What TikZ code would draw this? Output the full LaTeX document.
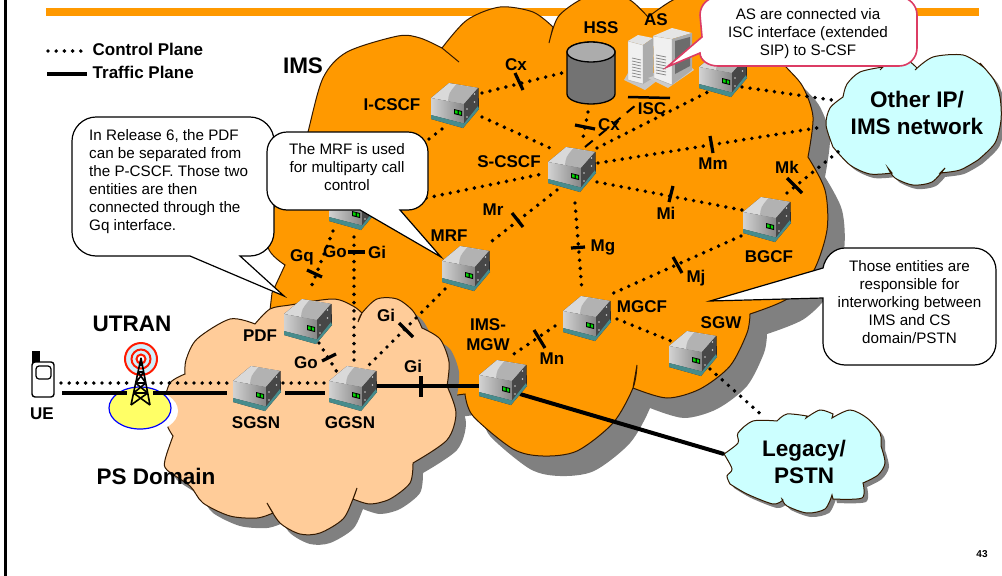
\documentclass[tikz,border=0pt]{standalone}
\usepackage{fontspec}
\setmainfont{Liberation Sans}
\definecolor{imsorange}{HTML}{FF9900}
\definecolor{peach}{HTML}{FFCC99}
\definecolor{lcyan}{HTML}{CCFFFF}
\definecolor{shadowgray}{HTML}{808080}
\definecolor{pinkline}{HTML}{DC3C64}
\definecolor{cellyellow}{HTML}{FFFF66}
\tikzset{
  ctrl/.style={line cap=round,line width=3.9pt,dash pattern=on 0pt off 8.2pt},
  traffic/.style={line width=4pt},
  dashlink/.style={line width=2pt,dash pattern=on 10pt off 8pt},
  tick/.style={line width=3.2pt},
  lbl/.style={font=\bfseries\fontsize{17}{20}\selectfont,inner sep=0pt},
  biglbl/.style={font=\bfseries\fontsize{22.5}{27}\selectfont,inner sep=0pt,align=center},
  calltext/.style={font=\fontsize{15.2}{18}\selectfont,inner sep=0pt},
  cloudline/.style={draw=black!80!orange,line width=1pt},
  callout/.style={draw=black,line width=1.2pt,fill=white},
  srvnode/.style={inner sep=0pt,minimum width=48pt,minimum height=44pt},
  server/.pic={
    \fill[black!85] (-24,-7)--(-6,-22)--(23.5,-17)--(24,4)--(8,23)--(-24,14)--cycle;
    \fill[gray!30] (-24,-7)--(-6,-22)--(23,-17)--(9,-1)--cycle;
    \fill[gray!60] (1,-20.5)--(23,-17)--(9,-1)--(-7,-4)..controls(-6,-12)..(1,-20.5)--cycle;
    \shade[left color=gray!35,right color=gray!95] (-24,-7)--(9,-1)--(9,18.5)--(-24,10)--cycle;
    \fill[black!72] (9,-1)--(23,-17)--(23,1)--(9,18.5)--cycle;
    \fill[gray!40] (19.5,-11) circle (0.9) (19.5,-3) circle (0.9) (12,4) circle (0.9) (12,12) circle (0.9);
    \fill[teal!60!gray!90] (-24,10)--(9,18.5)--(23,1)--(24,4)--(8,23)--(-24,14)--cycle;
    \fill[black] (-1,4)--(7,6)--(7,11)--(-1,9)--cycle;
    \fill[green!85!black] (0,5.2)--(2.6,5.8)--(2.6,8.8)--(0,8.2)--cycle (3.8,6.2)--(6.2,6.8)--(6.2,9.8)--(3.8,9.2)--cycle;
  },
}
\newcommand{\conn}[5]{\draw[#1] ([shift={(#3)}]#2.center) -- ([shift={(#5)}]#4.center);}
\def\orangecloud{plot[smooth] coordinates {(285,265)(268,247)(275,205)(300,165)(308,132)(323,78)(347,52)(398,36)(420,38)(442,48)}
 -- plot[smooth] coordinates {(442,48)(467,20)(500,7)(533,12)(553,27)}
 -- plot[smooth] coordinates {(549,43)(558,17)(580,0)(605,-8)(630,0)(648,17)}
 -- plot[smooth] coordinates {(648,17)(673,0)(700,-8)(760,40)(787,68)(803,87)(813,117)(808,157)}
 -- plot[smooth] coordinates {(808,157)(825,190)(827,230)(813,272)(787,299)(750,314)}
 -- plot[smooth] coordinates {(750,314)(747,333)(730,366)(700,389)(667,398)(633,388)}
 -- plot[smooth] coordinates {(637,365)(633,388)(613,423)(577,451)(543,456)(513,449)(473,416)(465,394)}
 -- (420,400) -- (300,340) -- (270,310) -- (272,293) -- cycle}
\def\peachcloud{plot[smooth] coordinates {(173,436)(167,425)(164,405)(170,383)(185,374)}
 -- plot[smooth] coordinates {(185,374)(186,360)(197,339)(230,319)(255,324)}
 -- plot[smooth] coordinates {(255,324)(270,309)(290,305)(333,299)(353,306)(362,313)}
 -- plot[smooth] coordinates {(358,322)(362,313)(377,299)(397,299)(413,311)(422,328)}
 -- plot[smooth] coordinates {(422,328)(440,339)(449,362)(447,386)}
 -- plot[smooth] coordinates {(447,386)(456,413)(447,440)(413,463)}
 -- plot[smooth] coordinates {(413,463)(410,483)(390,499)(370,504)(353,499)}
 -- plot[smooth] coordinates {(357,488)(353,499)(343,519)(320,533)(300,534)(280,523)(267,503)}
 -- plot[smooth] coordinates {(273,513)(257,518)(230,516)(203,503)(190,486)(167,470)(165,460)(173,436)} -- cycle}
\def\othercloud{plot[smooth] coordinates {(833,147)(826,125)(830,108)(843,97)}
 -- plot[smooth] coordinates {(843,97)(847,84)(860,72)(883,67)}
 -- plot[smooth] coordinates {(880,70)(892,60)(907,60)(917,68)}
 -- plot[smooth] coordinates {(915,70)(933,57)(963,55)(982,66)}
 -- plot[smooth] coordinates {(980,63)(994,80)(1000,97)(1001,120)(995,143)(978,160)}
 -- plot[smooth] coordinates {(978,160)(960,170)(940,173)}
 -- plot[smooth] coordinates {(945,168)(932,182)(913,185)(895,178)(888,168)}
 -- plot[smooth] coordinates {(892,173)(870,174)(850,165)(833,147)} -- cycle}
\def\legacycloud{plot[smooth] coordinates {(724,454)(738,443)(738,433)(753,421)(777,421)}
 -- plot[smooth] coordinates {(777,421)(787,414)(807,416)}
 -- plot[smooth] coordinates {(806,418)(820,410)(833,414)}
 -- plot[smooth] coordinates {(832,418)(850,410)(867,418)(880,433)(881,446)}
 -- plot[smooth] coordinates {(881,446)(885,463)(878,475)(863,483)}
 -- plot[smooth] coordinates {(863,483)(862,498)(833,499)}
 -- plot[smooth] coordinates {(832,495)(825,509)(807,513)(787,506)(782,499)}
 -- plot[smooth] coordinates {(783,500)(773,504)(747,494)(730,484)}
 -- plot[smooth] coordinates {(730,484)(727,476)(732,469)(724,454)} -- cycle}
\begin{document}
\begin{tikzpicture}[x=1pt,y=-1pt]
\useasboundingbox (0,0) rectangle (1002,576);
\clip (0,0) rectangle (1002,576);
% frame and title bar
\fill[black] (4,0) rectangle (7,576);
\fill[imsorange] (46,8) rectangle (979,16);
% big clouds
\fill[shadowgray,shift={(17,20)}] \orangecloud;
\path[fill=imsorange,cloudline] \orangecloud;
\draw[cloudline] (442,48) -- (459,62);
\fill[shadowgray,shift={(10,10)}] \peachcloud;
\path[fill=peach,cloudline] \peachcloud;
% side clouds
\fill[shadowgray,shift={(4,4)}] \othercloud;
\path[fill=lcyan,cloudline] \othercloud;
\fill[shadowgray,shift={(4,4)}] \legacycloud;
\path[fill=lcyan,cloudline] \legacycloud;
\node[inner sep=0pt,minimum width=150pt,minimum height=90pt] (other) at (917,115) {};
\node[inner sep=0pt,minimum width=140pt,minimum height=80pt] (legacy) at (804,462) {};
% radio cell
\fill[white] (147,411) ellipse (31 and 21);
\draw[blue,line width=1.2pt,fill=cellyellow] (140,408) ellipse (31 and 21);
% entity anchors
\node[srvnode] (ic) at (455,105) {};
\node[srvnode] (sc) at (572,169) {};
\node[srvnode] (tr) at (723,74) {};
\node[srvnode] (pc) at (353,207) {};
\node[srvnode] (mrf) at (466,268) {};
\node[srvnode] (pdf) at (308,321) {};
\node[srvnode] (sg) at (257,388) {};
\node[srvnode] (gg) at (353,388) {};
\node[srvnode] (mg) at (503,382) {};
\node[srvnode] (mc) at (587,318) {};
\node[srvnode] (sw) at (693,353) {};
\node[srvnode] (bg) at (767,219) {};
\node[inner sep=0pt,minimum width=48pt,minimum height=62pt] (hss) at (591,73) {};
\node[inner sep=0pt,minimum width=70pt,minimum height=60pt] (as) at (660,60) {};
\node[inner sep=0pt,minimum width=24pt,minimum height=46pt] (ue) at (43,375) {};
\node[inner sep=0pt,minimum width=24pt,minimum height=46pt] (tower) at (141,383) {};
% legend
\coordinate (lega) at (48,51); \coordinate (legb) at (84,51);
\coordinate (legc) at (47,74); \coordinate (legd) at (87,74);
\draw[ctrl] (lega) -- (legb);
\draw[traffic] (legc) -- (legd);
% control-plane links
\conn{ctrl}{ic}{27,-12}{hss}{-29,0}
\conn{ctrl}{ic}{27,12}{sc}{-22,-21}
\conn{ctrl}{ic}{-13,24}{pc}{20,-25}
\conn{ctrl}{pc}{25,1}{sc}{-30,5}
\conn{ctrl}{hss}{-3,39}{sc}{11,-31}
\conn{dashlink}{sc}{13,-22}{as}{-24,45}
\conn{ctrl}{sc}{25,-21}{tr}{-15,18}
\conn{ctrl}{tr}{19,13}{other}{-85,-15}
\conn{ctrl}{sc}{26,-6}{other}{-94,12}
\conn{ctrl}{bg}{20,-26}{other}{-73,32}
\conn{ctrl}{sc}{25,13}{bg}{-25,-9}
\conn{ctrl}{sc}{3,34}{mc}{-5,-27}
\conn{ctrl}{bg}{-26,17}{mc}{20,-22}
\conn{ctrl}{sc}{-15,21}{mrf}{21,-23}
\conn{ctrl}{mc}{-32,8}{mg}{5,-24}
\conn{ctrl}{mc}{30,1}{sw}{-22,-12}
\conn{ctrl}{sw}{17,16}{legacy}{-39,-44}
\conn{ctrl}{pc}{-20,24}{pdf}{2,-31}
\conn{ctrl}{pc}{1,30}{gg}{1,-22}
\conn{ctrl}{pdf}{11,22}{gg}{-16,-16}
\conn{ctrl}{mrf}{-21,21}{gg}{12,-19}
\conn{ctrl}{ue}{18,8}{tower}{-14,0}
\conn{ctrl}{tower}{12,0}{sg}{-30,-5}
\conn{ctrl}{sg}{26,-5}{gg}{-26,-5}
% traffic-plane links
\conn{traffic}{ue}{19,18}{tower}{-14,10}
\conn{traffic}{tower}{12,10}{sg}{-30,5}
\conn{traffic}{sg}{28,5}{gg}{-28,5}
\conn{traffic}{gg}{20,-2}{mg}{-23,4}
\conn{traffic}{mg}{17,12}{legacy}{-80,-8}
% interface ticks
\draw[tick] (515,73) -- (523,90);
\draw[tick] (575,125) -- (595,129);
\draw[line width=2.5pt] (628,97) -- (670,98);
\draw[tick] (710,136) -- (713,153);
\draw[tick] (787,178) -- (802,193);
\draw[tick] (673,186) -- (669,202);
\draw[tick] (571,248) -- (585,247);
\draw[tick] (673,257) -- (682,273);
\draw[tick] (512,213) -- (523,227);
\draw[tick] (534,330) -- (545,348);
\draw[tick] (307,270) -- (322,277);
\draw[tick] (348,252) -- (365,252);
\draw[tick] (322,361) -- (336,354);
\draw[tick] (399,323) -- (413,337);
\draw[tick] (421,376) -- (421,397);
% servers
\foreach \n in {ic,sc,tr,pc,mrf,pdf,sg,gg,mg,mc,sw,bg} {\pic at (\n) {server};}
% HSS cylinder
\shade[left color=gray!110,middle color=gray!45,right color=gray!110,draw=black,line width=1.3pt]
  (567,52) -- (567,94) arc[start angle=180,end angle=0,x radius=24,y radius=10] -- (615,52) arc[start angle=0,end angle=-180,x radius=24,y radius=10] -- cycle;
\draw[fill=gray!65,line width=1.3pt] (591,52) ellipse (24 and 10);
% AS towers
\fill[gray!45] (624,80) -- (645,90) -- (658,80) -- (655,73) -- (628,73) -- cycle;
\fill[gray!12,draw=gray!70,line width=.4pt] (628,41) -- (643,45) -- (643,84) -- (628,80) -- cycle;
\fill[gray!22] (628,41) -- (638,35) -- (653,38) -- (643,45) -- cycle;
\fill[gray!65] (643,45) -- (653,38) -- (653,78) -- (643,84) -- cycle;
\foreach \yy in {58,61,64,67,70,73,76} {\draw[gray,line width=.7pt] (632,\yy) -- (641,\yy+2);}
\fill[gray!40] (648,78) -- (668,88) -- (694,70) -- (690,66) -- (670,70) -- cycle;
\fill[gray!12,draw=gray!70,line width=.4pt] (653,36) -- (672,39) -- (672,85) -- (654,78) -- cycle;
\fill[gray!20] (653,36) -- (672,28) -- (692,33) -- (672,39) -- cycle;
\fill[gray!65] (672,39) -- (692,33) -- (692,70) -- (672,85) -- cycle;
\fill[gray!85!black] (675,41) -- (690,37) -- (690,66) -- (675,74) -- cycle;
\foreach \yy in {55,58,61,64,67,70,73} {\draw[gray,line width=.7pt] (656,\yy) -- (666,\yy+2);}
% UE phone
\fill[black] (32,351) rectangle (40,363);
\draw[fill=white,line width=1.4pt,rounded corners=3pt] (32,362) rectangle (54,397);
\draw[line width=1.2pt,rounded corners=3pt] (36,366) rectangle (51,379);
% radio tower
\draw[red!80!orange,line width=2pt,fill=cyan!18] (141,359) circle (16);
\draw[red!80!orange,line width=2pt,fill=cyan!18] (141,359) circle (9.5);
\draw[red!80!orange,line width=2pt,fill=white] (141,359) circle (4.5);
\fill[black] (139,366) -- (141,357) -- (143,366) -- cycle;
\draw[line width=1.6pt,line join=round] (141,358) -- (131,405) (141,358) -- (150,405)
 (138,372) -- (143.7,372) (135.7,383) -- (145.8,383) (133.6,393) -- (147.7,393)
 (138,372) -- (145.8,383) (143.7,372) -- (135.7,383) (135.7,383) -- (147.7,393) (145.8,383) -- (133.6,393)
 (133.6,393) -- (150,405) (147.7,393) -- (131,405);
% callouts
\path[callout] (96,117) -- (250,117) .. controls (263,117) and (274,128) .. (274,141) -- (274,232) .. controls (274,245) and (263,256) .. (250,256) -- (240,256) -- (284,296) -- (190,256) -- (96,256) .. controls (83,256) and (72,245) .. (72,232) -- (72,141) .. controls (72,128) and (83,117) .. (96,117) -- cycle;
\path[callout] (287,132) -- (408,132) .. controls (419,132) and (428,141) .. (428,152) -- (428,190) .. controls (428,201) and (419,210) .. (408,210) -- (400,210) -- (441,257) -- (360,210) -- (287,210) .. controls (276,210) and (267,201) .. (267,190) -- (267,152) .. controls (267,141) and (276,132) .. (287,132) -- cycle;
\path[callout] (845,248) -- (974,248) .. controls (986,248) and (996,258) .. (996,270) -- (996,343) .. controls (996,355) and (986,365) .. (974,365) -- (845,365) .. controls (833,365) and (823,355) .. (823,343) -- (823,298) -- (710,301) -- (823,268) .. controls (825,257) and (834,248) .. (845,248) -- cycle;
\path[callout,draw=pinkline,line width=1.6pt] (718,-3) -- (899,-3) .. controls (909,-3) and (917,5) .. (917,15) -- (917,48) .. controls (917,58) and (909,66) .. (899,66) -- (718,66) .. controls (708,66) and (700,60) .. (700,53) -- (667,67) -- (702,37) -- (700,15) .. controls (700,5) and (708,-3) .. (718,-3) -- cycle;
\node[calltext,align=left,anchor=west] (t1) at (89,181.5) {In Release 6, the PDF\\can be separated from\\the P-CSCF. Those two\\entities are then\\connected through the\\Gq interface.};
\node[calltext,align=center] (t2) at (347,167) {The MRF is used\\for multiparty call\\control};
\node[calltext,align=center] (t3) at (909.5,302) {Those entities are\\responsible for\\interworking between\\IMS and CS\\domain/PSTN};
\node[calltext,align=center] (t4) at (808,34) {AS are connected via\\ISC interface (extended\\SIP) to S-CSF};
% labels
\node[lbl,anchor=west] (lcp) at (92.5,49) {Control Plane};
\node[lbl,anchor=west] (ltp) at (92.5,72) {Traffic Plane};
\node[biglbl] (lims) at (303,66) {IMS};
\node[lbl] (l1) at (392,105) {I-CSCF};
\node[lbl] (l2) at (601,28) {HSS};
\node[lbl] (l3) at (656,20) {AS};
\node[lbl] (l4) at (516,65) {Cx};
\node[lbl] (l5) at (609,125) {Cx};
\node[lbl] (l6) at (652,109) {ISC};
\node[lbl] (l7) at (509,162) {S-CSCF};
\node[lbl] (l8) at (713,164) {Mm};
\node[lbl] (l9) at (787,167) {Mk};
\node[lbl] (l10) at (666,213) {Mi};
\node[lbl] (l11) at (603,247) {Mg};
\node[lbl] (l12) at (696,278) {Mj};
\node[lbl] (l13) at (769,257) {BGCF};
\node[lbl] (l14) at (493,210) {Mr};
\node[lbl] (l15) at (449,236) {MRF};
\node[lbl] (l16) at (642,307) {MGCF};
\node[lbl] (l17) at (721,323) {SGW};
\node[lbl] (l18) at (552,359) {Mn};
\node[lbl,align=center] (l19) at (488,334.5) {IMS-\\MGW};
\node[lbl] (l20) at (302,257) {Gq};
\node[lbl] (l21) at (335,252) {Go};
\node[lbl] (l22) at (377,252) {Gi};
\node[lbl] (l23) at (386,315) {Gi};
\node[lbl] (l24) at (306,363) {Go};
\node[lbl] (l25) at (413,366) {Gi};
\node[lbl] (l26) at (260,336) {PDF};
\node[lbl] (l27) at (256,423) {SGSN};
\node[lbl] (l28) at (350,423) {GGSN};
\node[lbl] (l29) at (42,414) {UE};
\node[biglbl] (l30) at (132,324) {UTRAN};
\node[biglbl] (l31) at (156,476) {PS Domain};
\node[biglbl] (l32) at (917,112.5) {Other IP/\\IMS network};
\node[biglbl] (l33) at (804,461.5) {Legacy/\\PSTN};
\node[font=\bfseries\fontsize{10}{12}\selectfont,inner sep=0pt] (l34) at (982,554) {43};
\end{tikzpicture}
\end{document}
